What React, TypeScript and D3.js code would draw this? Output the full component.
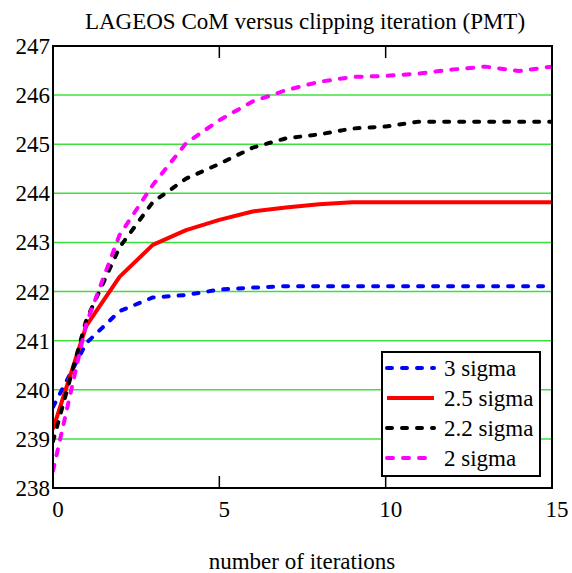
import React from "react";
import * as d3 from "d3";

const iterations = [0, 1, 2, 3, 4, 5, 6, 7, 8, 9, 10, 11, 12, 13, 14, 15];
const sigma3 = [239.65, 240.95, 241.6, 241.88, 241.93, 242.04, 242.08, 242.11, 242.11, 242.11, 242.11, 242.11, 242.11, 242.11, 242.11, 242.11];
const sigma25 = [239.2, 241.3, 242.3, 242.95, 243.25, 243.46, 243.63, 243.71, 243.78, 243.82, 243.82, 243.82, 243.82, 243.82, 243.82, 243.82];
const sigma22 = [238.95, 241.42, 242.9, 243.82, 244.3, 244.6, 244.93, 245.12, 245.2, 245.32, 245.36, 245.46, 245.46, 245.46, 245.46, 245.46];
const sigma2 = [238.35, 241.35, 243.15, 244.17, 245.02, 245.49, 245.87, 246.1, 246.27, 246.37, 246.39, 246.44, 246.52, 246.58, 246.49, 246.58];
const seriesNames = ["3 sigma", "2.5 sigma", "2.2 sigma", "2 sigma"];
const xTicks = [0, 5, 10, 15];
const yTicks = [238, 239, 240, 241, 242, 243, 244, 245, 246, 247];
const title = "LAGEOS CoM versus clipping iteration (PMT)";
const xLabel = "number of iterations";

const W = 572, H = 573;
const L = 53, R = 552, T = 46, B = 488;
const FONT = "Liberation Serif";

export default function App() {
  const x = d3.scaleLinear().domain([0, 15]).range([L, R]);
  const y = d3.scaleLinear().domain([238, 247]).range([B, T]);
  const line = d3.line<number>().x((_, i) => x(iterations[i])).y((d) => y(d));
  const series = [
    { name: seriesNames[0], values: sigma3, color: "#0000ff", dash: "5,10" },
    { name: seriesNames[1], values: sigma25, color: "#ff0000", dash: "" },
    { name: seriesNames[2], values: sigma22, color: "#000000", dash: "5,10" },
    { name: seriesNames[3], values: sigma2, color: "#ff00ff", dash: "6,10" },
  ];
  const legendX = 382, legendY = 352, legendW = 158, legendH = 124;
  const ts = { fontFamily: FONT } as React.CSSProperties;
  return (
    <svg width={W} height={H} style={{ position: "absolute", left: 0, top: 0, background: "#fff" }}>
      <defs>
        <clipPath id="plotclip">
          <rect x={L} y={T} width={R - L} height={B - T} />
        </clipPath>
      </defs>
      <text x={305} y={29} textAnchor="middle" style={ts} fontSize={23} fill="#000">{title}</text>
      {yTicks.filter((t) => t > 238 && t < 247).map((t) => (
        <line key={"g" + t} x1={L} x2={R} y1={y(t)} y2={y(t)} stroke="#3ee03e" strokeWidth={1.5} />
      ))}
      <g clipPath="url(#plotclip)">
        {series.map((s) => (
          <path key={s.name} d={line(s.values) || ""} fill="none" stroke={s.color} strokeWidth={4}
            strokeDasharray={s.dash || undefined} strokeLinecap={s.dash ? "round" : "butt"} strokeLinejoin="round" />
        ))}
      </g>
      <rect x={L} y={T} width={R - L} height={B - T} fill="none" stroke="#000" strokeWidth={2} />
      {xTicks.filter((t) => t > 0 && t < 15).map((t) => (
        <g key={"t" + t}>
          <line x1={x(t)} x2={x(t)} y1={T} y2={T + 12} stroke="#000" strokeWidth={1.5} />
          <line x1={x(t)} x2={x(t)} y1={B} y2={B - 12} stroke="#000" strokeWidth={1.5} />
        </g>
      ))}
      {yTicks.map((t) => (
        <text key={"yl" + t} x={L - 3} y={y(t) + 8} textAnchor="end" style={ts} fontSize={23} fill="#000">{t}</text>
      ))}
      {xTicks.map((t) => (
        <text key={"xl" + t} x={x(t) + 5} y={517} textAnchor="middle" style={ts} fontSize={23} fill="#000">{t}</text>
      ))}
      <text x={302} y={569} textAnchor="middle" style={ts} fontSize={23} fill="#000">{xLabel}</text>
      <rect x={legendX} y={legendY} width={legendW} height={legendH} fill="#fff" stroke="#000" strokeWidth={2} />
      {series.map((s, i) => {
        const ly = legendY + 16 + i * 30;
        return (
          <g key={"lg" + s.name}>
            <line x1={legendX + 5} x2={legendX + 52} y1={ly} y2={ly} stroke={s.color} strokeWidth={4}
              strokeDasharray={s.dash || undefined} strokeLinecap={s.dash ? "round" : "butt"} />
            <text x={legendX + 62} y={ly + 8} style={ts} fontSize={23} fill="#000">{s.name}</text>
          </g>
        );
      })}
    </svg>
  );
}
